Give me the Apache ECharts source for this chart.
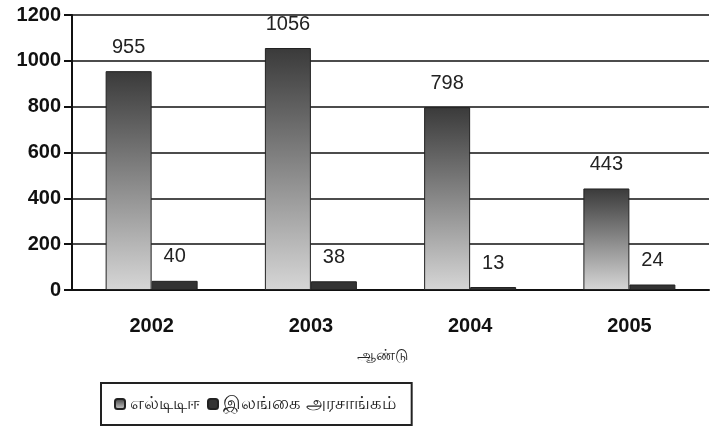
<!DOCTYPE html>
<html><head><meta charset="utf-8">
<script src="https://cdn.jsdelivr.net/npm/echarts@6/dist/echarts.min.js"></script>
<style>html,body{margin:0;padding:0;background:#fff}#c{width:713px;height:429px}</style>
</head><body><div id="c"></div>
<script>
const years = ['2002', '2003', '2004', '2005'];
const ltte = [955, 1056, 798, 443];
const govt = [40, 38, 13, 24];
const yTicks = [0, 200, 400, 600, 800, 1000, 1200];
const seriesNames = ['எல்டிடிஈ', 'இலங்கை அரசாங்கம்'];
const xTitle = 'ஆண்டு';

const chart = echarts.init(document.getElementById('c'));
chart.setOption({
  animation: false,
  grid: {left: 72, right: 4, top: 15, bottom: 139},
  legend: {
    data: seriesNames, top: 383, left: 101,
    itemWidth: 10, itemHeight: 10, itemGap: 7,
    borderColor: '#222', borderWidth: 2, padding: [12, 16, 12, 13],
    textStyle: {fontSize: 18, color: '#222', fontFamily: 'Noto Sans, sans-serif'}
  },
  xAxis: {
    type: 'category', data: years,
    name: xTitle, nameLocation: 'middle', nameGap: 58,
    nameTextStyle: {fontSize: 15, color: '#222', padding: [0, 16, 0, 0]},
    axisLine: {lineStyle: {color: '#111', width: 2}},
    axisTick: {show: false},
    axisLabel: {fontSize: 20, fontWeight: 'bold', color: '#111', margin: 26, fontFamily: 'Liberation Sans, Arial'}
  },
  yAxis: {
    type: 'value', min: 0, max: 1200, interval: 200,
    axisLine: {show: true, lineStyle: {color: '#111', width: 2}},
    axisTick: {show: true, length: 8, lineStyle: {color: '#111', width: 2}},
    axisLabel: {fontSize: 20, fontWeight: 'bold', color: '#111', margin: 11, fontFamily: 'Liberation Sans, Arial',
      formatter: v => yTicks.includes(v) ? String(v) : ''},
    splitLine: {lineStyle: {color: '#111', width: 1.6}}
  },
  series: [
    {
      name: seriesNames[0], type: 'bar', data: ltte, barWidth: 46, barGap: '0%',
      itemStyle: {
        color: new echarts.graphic.LinearGradient(0, 0, 0, 1, [
          {offset: 0, color: '#3a3a3a'}, {offset: 1, color: '#d6d6d6'}
        ]),
        borderColor: '#222', borderWidth: 1
      },
      label: {show: true, position: 'top', distance: 14, fontSize: 20, color: '#222', fontFamily: 'Liberation Sans, Arial'}
    },
    {
      name: seriesNames[1], type: 'bar', data: govt, barWidth: 46,
      itemStyle: {color: '#333', borderColor: '#222', borderWidth: 1},
      label: {show: true, position: 'top', distance: 14, fontSize: 20, color: '#222', fontFamily: 'Liberation Sans, Arial'}
    }
  ]
});
</script></body></html>
